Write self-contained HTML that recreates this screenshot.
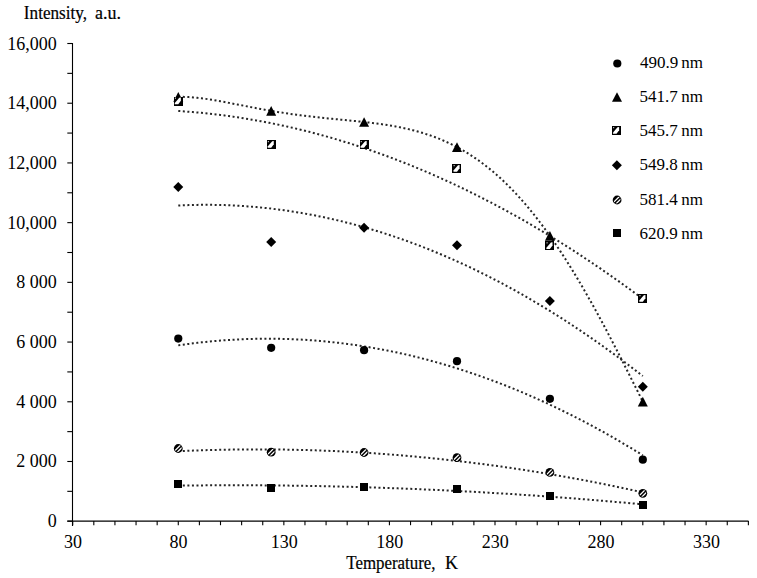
<!DOCTYPE html><html><head><meta charset="utf-8"><style>html,body{margin:0;padding:0;background:#fff;}svg{display:block;}text{font-family:"Liberation Serif",serif;fill:#000;}.b{stroke:#000;stroke-width:0.2px;}</style></head><body>
<svg width="757" height="578" viewBox="0 0 757 578">
<defs>
<clipPath id="cc"><circle cx="0" cy="0" r="3.4"/></clipPath>
<g id="m0"><circle cx="0" cy="0" r="4.1" fill="#000"/></g>
<g id="m1"><path d="M0,-4.85 L5,4.85 L-5,4.85 Z" fill="#000"/></g>
<g id="m2"><rect x="-4.5" y="-4.5" width="9" height="9" fill="#000" shape-rendering="crispEdges"/><path d="M-3.5,3.2 L-3.5,2.1 L1,-3.3 L2.6,-3.4 L2.6,-0.3 L0,3.2 Z" fill="#fff"/><rect x="-3.4" y="-3.4" width="1.1" height="1.1" fill="#fff" opacity="0.9"/></g>
<g id="m3"><path d="M0,-5 L5,0 L0,5 L-5,0 Z" fill="#000"/></g>
<g id="m4"><circle cx="0" cy="0" r="4.4" fill="#000"/><g clip-path="url(#cc)" stroke="#fff" stroke-width="1.3"><line x1="-6" y1="4.8" x2="4.8" y2="-6"/><line x1="-3" y1="5.7" x2="5.7" y2="-3"/></g></g>
<g id="m5"><rect x="-4" y="-4" width="8" height="8" fill="#000" shape-rendering="crispEdges"/></g>
</defs>
<line x1="72.5" y1="43" x2="72.5" y2="526" stroke="#000" stroke-width="1.1"/>
<line x1="67.3" y1="521.2" x2="748.5" y2="521.2" stroke="#000" stroke-width="1.3"/>
<line x1="67.3" y1="521.20" x2="72.5" y2="521.20" stroke="#000" stroke-width="1.1"/>
<line x1="67.3" y1="491.34" x2="72.5" y2="491.34" stroke="#000" stroke-width="1.1"/>
<line x1="67.3" y1="461.49" x2="72.5" y2="461.49" stroke="#000" stroke-width="1.1"/>
<line x1="67.3" y1="431.63" x2="72.5" y2="431.63" stroke="#000" stroke-width="1.1"/>
<line x1="67.3" y1="401.78" x2="72.5" y2="401.78" stroke="#000" stroke-width="1.1"/>
<line x1="67.3" y1="371.92" x2="72.5" y2="371.92" stroke="#000" stroke-width="1.1"/>
<line x1="67.3" y1="342.06" x2="72.5" y2="342.06" stroke="#000" stroke-width="1.1"/>
<line x1="67.3" y1="312.21" x2="72.5" y2="312.21" stroke="#000" stroke-width="1.1"/>
<line x1="67.3" y1="282.35" x2="72.5" y2="282.35" stroke="#000" stroke-width="1.1"/>
<line x1="67.3" y1="252.50" x2="72.5" y2="252.50" stroke="#000" stroke-width="1.1"/>
<line x1="67.3" y1="222.64" x2="72.5" y2="222.64" stroke="#000" stroke-width="1.1"/>
<line x1="67.3" y1="192.78" x2="72.5" y2="192.78" stroke="#000" stroke-width="1.1"/>
<line x1="67.3" y1="162.93" x2="72.5" y2="162.93" stroke="#000" stroke-width="1.1"/>
<line x1="67.3" y1="133.07" x2="72.5" y2="133.07" stroke="#000" stroke-width="1.1"/>
<line x1="67.3" y1="103.22" x2="72.5" y2="103.22" stroke="#000" stroke-width="1.1"/>
<line x1="67.3" y1="73.36" x2="72.5" y2="73.36" stroke="#000" stroke-width="1.1"/>
<line x1="67.3" y1="43.50" x2="72.5" y2="43.50" stroke="#000" stroke-width="1.1"/>
<line x1="72.70" y1="521" x2="72.70" y2="525.2" stroke="#000" stroke-width="1.1"/>
<line x1="93.81" y1="521" x2="93.81" y2="525.2" stroke="#000" stroke-width="1.1"/>
<line x1="114.93" y1="521" x2="114.93" y2="525.2" stroke="#000" stroke-width="1.1"/>
<line x1="136.05" y1="521" x2="136.05" y2="525.2" stroke="#000" stroke-width="1.1"/>
<line x1="157.16" y1="521" x2="157.16" y2="525.2" stroke="#000" stroke-width="1.1"/>
<line x1="178.28" y1="521" x2="178.28" y2="525.2" stroke="#000" stroke-width="1.1"/>
<line x1="199.39" y1="521" x2="199.39" y2="525.2" stroke="#000" stroke-width="1.1"/>
<line x1="220.50" y1="521" x2="220.50" y2="525.2" stroke="#000" stroke-width="1.1"/>
<line x1="241.62" y1="521" x2="241.62" y2="525.2" stroke="#000" stroke-width="1.1"/>
<line x1="262.74" y1="521" x2="262.74" y2="525.2" stroke="#000" stroke-width="1.1"/>
<line x1="283.85" y1="521" x2="283.85" y2="525.2" stroke="#000" stroke-width="1.1"/>
<line x1="304.96" y1="521" x2="304.96" y2="525.2" stroke="#000" stroke-width="1.1"/>
<line x1="326.08" y1="521" x2="326.08" y2="525.2" stroke="#000" stroke-width="1.1"/>
<line x1="347.19" y1="521" x2="347.19" y2="525.2" stroke="#000" stroke-width="1.1"/>
<line x1="368.31" y1="521" x2="368.31" y2="525.2" stroke="#000" stroke-width="1.1"/>
<line x1="389.42" y1="521" x2="389.42" y2="525.2" stroke="#000" stroke-width="1.1"/>
<line x1="410.54" y1="521" x2="410.54" y2="525.2" stroke="#000" stroke-width="1.1"/>
<line x1="431.65" y1="521" x2="431.65" y2="525.2" stroke="#000" stroke-width="1.1"/>
<line x1="452.77" y1="521" x2="452.77" y2="525.2" stroke="#000" stroke-width="1.1"/>
<line x1="473.88" y1="521" x2="473.88" y2="525.2" stroke="#000" stroke-width="1.1"/>
<line x1="495.00" y1="521" x2="495.00" y2="525.2" stroke="#000" stroke-width="1.1"/>
<line x1="516.12" y1="521" x2="516.12" y2="525.2" stroke="#000" stroke-width="1.1"/>
<line x1="537.23" y1="521" x2="537.23" y2="525.2" stroke="#000" stroke-width="1.1"/>
<line x1="558.35" y1="521" x2="558.35" y2="525.2" stroke="#000" stroke-width="1.1"/>
<line x1="579.46" y1="521" x2="579.46" y2="525.2" stroke="#000" stroke-width="1.1"/>
<line x1="600.58" y1="521" x2="600.58" y2="525.2" stroke="#000" stroke-width="1.1"/>
<line x1="621.69" y1="521" x2="621.69" y2="525.2" stroke="#000" stroke-width="1.1"/>
<line x1="642.81" y1="521" x2="642.81" y2="525.2" stroke="#000" stroke-width="1.1"/>
<line x1="663.92" y1="521" x2="663.92" y2="525.2" stroke="#000" stroke-width="1.1"/>
<line x1="685.04" y1="521" x2="685.04" y2="525.2" stroke="#000" stroke-width="1.1"/>
<line x1="706.15" y1="521" x2="706.15" y2="525.2" stroke="#000" stroke-width="1.1"/>
<line x1="727.26" y1="521" x2="727.26" y2="525.2" stroke="#000" stroke-width="1.1"/>
<line x1="748.38" y1="521" x2="748.38" y2="525.2" stroke="#000" stroke-width="1.1"/>
<text x="56.8" y="527" font-size="18" text-anchor="end">0</text>
<text x="56.8" y="467" font-size="18" text-anchor="end">2 000</text>
<text x="56.8" y="408" font-size="18" text-anchor="end">4 000</text>
<text x="56.8" y="348" font-size="18" text-anchor="end">6 000</text>
<text x="56.8" y="288" font-size="18" text-anchor="end">8 000</text>
<text x="56.8" y="229" font-size="18" text-anchor="end">10,000</text>
<text x="56.8" y="169" font-size="18" text-anchor="end">12,000</text>
<text x="56.8" y="109" font-size="18" text-anchor="end">14,000</text>
<text x="56.8" y="50" font-size="18" text-anchor="end">16,000</text>
<text x="73.00" y="548" font-size="18" text-anchor="middle">30</text>
<text x="178.58" y="548" font-size="18" text-anchor="middle">80</text>
<text x="284.15" y="548" font-size="18" text-anchor="middle">130</text>
<text x="389.72" y="548" font-size="18" text-anchor="middle">180</text>
<text x="495.30" y="548" font-size="18" text-anchor="middle">230</text>
<text x="600.88" y="548" font-size="18" text-anchor="middle">280</text>
<text x="706.45" y="548" font-size="18" text-anchor="middle">330</text>
<text transform="translate(346.3,569) scale(0.938,1)" x="0" y="0" font-size="18" class="b">Temperature,</text>
<text x="445.1" y="569" font-size="18" class="b">K</text>
<text transform="translate(23.85,19) scale(0.953,1)" x="0" y="0" font-size="18" class="b">Intensity,</text>
<text x="95" y="19" font-size="18" class="b">a.u.</text>
<polyline points="178.28,345.37 180.39,345.06 182.50,344.76 184.61,344.46 186.72,344.17 188.83,343.89 190.94,343.62 193.06,343.35 195.17,343.09 197.28,342.84 199.39,342.60 201.50,342.36 203.61,342.13 205.72,341.91 207.84,341.70 209.95,341.49 212.06,341.29 214.17,341.10 216.28,340.91 218.39,340.74 220.50,340.57 222.62,340.40 224.73,340.25 226.84,340.10 228.95,339.96 231.06,339.83 233.17,339.70 235.29,339.59 237.40,339.47 239.51,339.37 241.62,339.28 243.73,339.19 245.84,339.11 247.95,339.03 250.07,338.97 252.18,338.91 254.29,338.86 256.40,338.81 258.51,338.78 260.62,338.75 262.74,338.72 264.85,338.71 266.96,338.70 269.07,338.70 271.18,338.71 273.29,338.73 275.40,338.75 277.52,338.78 279.63,338.82 281.74,338.86 283.85,338.91 285.96,338.97 288.07,339.04 290.18,339.11 292.30,339.19 294.41,339.28 296.52,339.38 298.63,339.48 300.74,339.60 302.85,339.71 304.97,339.84 307.08,339.97 309.19,340.11 311.30,340.26 313.41,340.42 315.52,340.58 317.63,340.75 319.75,340.93 321.86,341.11 323.97,341.31 326.08,341.51 328.19,341.72 330.30,341.93 332.41,342.15 334.53,342.38 336.64,342.62 338.75,342.86 340.86,343.12 342.97,343.37 345.08,343.64 347.20,343.92 349.31,344.20 351.42,344.49 353.53,344.78 355.64,345.09 357.75,345.40 359.86,345.71 361.98,346.04 364.09,346.37 366.20,346.71 368.31,347.06 370.42,347.42 372.53,347.78 374.64,348.15 376.76,348.53 378.87,348.91 380.98,349.31 383.09,349.71 385.20,350.11 387.31,350.53 389.43,350.95 391.54,351.38 393.65,351.82 395.76,352.26 397.87,352.71 399.98,353.17 402.09,353.64 404.21,354.11 406.32,354.59 408.43,355.08 410.54,355.58 412.65,356.08 414.76,356.59 416.87,357.11 418.99,357.63 421.10,358.17 423.21,358.71 425.32,359.26 427.43,359.81 429.54,360.37 431.66,360.94 433.77,361.52 435.88,362.11 437.99,362.70 440.10,363.30 442.21,363.90 444.32,364.52 446.44,365.14 448.55,365.77 450.66,366.41 452.77,367.05 454.88,367.70 456.99,368.36 459.10,369.03 461.22,369.70 463.33,370.38 465.44,371.07 467.55,371.76 469.66,372.47 471.77,373.18 473.89,373.90 476.00,374.62 478.11,375.35 480.22,376.09 482.33,376.84 484.44,377.60 486.55,378.36 488.67,379.13 490.78,379.91 492.89,380.69 495.00,381.48 497.11,382.28 499.22,383.09 501.33,383.90 503.45,384.72 505.56,385.55 507.67,386.39 509.78,387.23 511.89,388.08 514.00,388.94 516.12,389.81 518.23,390.68 520.34,391.56 522.45,392.45 524.56,393.35 526.67,394.25 528.78,395.16 530.90,396.08 533.01,397.00 535.12,397.93 537.23,398.87 539.34,399.82 541.45,400.78 543.56,401.74 545.68,402.71 547.79,403.68 549.90,404.67 552.01,405.66 554.12,406.66 556.23,407.67 558.35,408.68 560.46,409.70 562.57,410.73 564.68,411.77 566.79,412.81 568.90,413.86 571.01,414.92 573.13,415.98 575.24,417.06 577.35,418.14 579.46,419.22 581.57,420.32 583.68,421.42 585.79,422.53 587.91,423.65 590.02,424.77 592.13,425.91 594.24,427.05 596.35,428.19 598.46,429.35 600.58,430.51 602.69,431.68 604.80,432.86 606.91,434.04 609.02,435.23 611.13,436.43 613.24,437.64 615.36,438.85 617.47,440.07 619.58,441.30 621.69,442.53 623.80,443.78 625.91,445.03 628.02,446.29 630.14,447.55 632.25,448.82 634.36,450.10 636.47,451.39 638.58,452.69 640.69,453.99 642.81,455.30" fill="none" stroke="#262626" stroke-width="2" stroke-dasharray="2 2.55"/>
<polyline points="178.28,96.80 180.39,96.80 182.50,96.82 184.61,96.88 186.72,96.97 188.83,97.09 190.94,97.24 193.06,97.41 195.17,97.60 197.28,97.82 199.39,98.06 201.50,98.31 203.61,98.59 205.72,98.88 207.84,99.19 209.95,99.51 212.06,99.84 214.17,100.19 216.28,100.54 218.39,100.91 220.50,101.29 222.62,101.67 224.73,102.06 226.84,102.45 228.95,102.86 231.06,103.26 233.17,103.67 235.29,104.08 237.40,104.49 239.51,104.90 241.62,105.32 243.73,105.73 245.84,106.14 247.95,106.55 250.07,106.96 252.18,107.37 254.29,107.77 256.40,108.17 258.51,108.57 260.62,108.96 262.74,109.35 264.85,109.73 266.96,110.11 269.07,110.48 271.18,110.85 273.29,111.21 275.40,111.57 277.52,111.91 279.63,112.26 281.74,112.59 283.85,112.92 285.96,113.24 288.07,113.56 290.18,113.87 292.30,114.17 294.41,114.47 296.52,114.75 298.63,115.04 300.74,115.31 302.85,115.58 304.96,115.85 307.08,116.11 309.19,116.36 311.30,116.61 313.41,116.85 315.52,117.09 317.63,117.32 319.75,117.55 321.86,117.77 323.97,117.99 326.08,118.21 328.19,118.42 330.30,118.63 332.41,118.84 334.53,119.05 336.64,119.25 338.75,119.46 340.86,119.66 342.97,119.86 345.08,120.07 347.19,120.27 349.31,120.48 351.42,120.68 353.53,120.89 355.64,121.11 357.75,121.32 359.86,121.54 361.98,121.77 364.09,122.00 366.20,122.24 368.31,122.48 370.42,122.73 372.53,122.99 374.64,123.25 376.76,123.53 378.87,123.81 380.98,124.10 383.09,124.41 385.20,124.72 387.31,125.05 389.42,125.39 391.54,125.75 393.65,126.12 395.76,126.50 397.87,126.90 399.98,127.31 402.09,127.75 404.21,128.20 406.32,128.66 408.43,129.15 410.54,129.66 412.65,130.18 414.76,130.73 416.87,131.30 418.99,131.89 421.10,132.50 423.21,133.14 425.32,133.80 427.43,134.49 429.54,135.20 431.65,135.94 433.77,136.71 435.88,137.50 437.99,138.32 440.10,139.17 442.21,140.05 444.32,140.97 446.44,141.91 448.55,142.88 450.66,143.89 452.77,144.92 454.88,145.99 456.99,147.10 459.10,148.24 461.22,149.41 463.33,150.62 465.44,151.87 467.55,153.15 469.66,154.47 471.77,155.83 473.88,157.23 476.00,158.66 478.11,160.14 480.22,161.65 482.33,163.21 484.44,164.80 486.55,166.44 488.67,168.11 490.78,169.83 492.89,171.59 495.00,173.40 497.11,175.24 499.22,177.13 501.33,179.06 503.45,181.04 505.56,183.06 507.67,185.12 509.78,187.23 511.89,189.39 514.00,191.59 516.12,193.83 518.23,196.12 520.34,198.45 522.45,200.83 524.56,203.26 526.67,205.73 528.78,208.24 530.90,210.80 533.01,213.41 535.12,216.06 537.23,218.76 539.34,221.51 541.45,224.29 543.56,227.13 545.68,230.01 547.79,232.93 549.90,235.90 552.01,238.91 554.12,241.97 556.23,245.07 558.35,248.21 560.46,251.40 562.57,254.63 564.68,257.90 566.79,261.22 568.90,264.57 571.01,267.97 573.13,271.40 575.24,274.88 577.35,278.39 579.46,281.95 581.57,285.54 583.68,289.16 585.79,292.83 587.91,296.53 590.02,300.26 592.13,304.03 594.24,307.83 596.35,311.66 598.46,315.53 600.58,319.42 602.69,323.34 604.80,327.29 606.91,331.27 609.02,335.27 611.13,339.30 613.24,343.35 615.36,347.42 617.47,351.52 619.58,355.63 621.69,359.76 623.80,363.91 625.91,368.07 628.02,372.24 630.14,376.43 632.25,380.62 634.36,384.83 636.47,389.04 638.58,393.26 640.69,397.48 642.81,401.70" fill="none" stroke="#262626" stroke-width="2" stroke-dasharray="2 2.55"/>
<polyline points="178.28,111.00 180.39,111.13 182.50,111.28 184.61,111.42 186.72,111.58 188.83,111.74 190.94,111.91 193.06,112.09 195.17,112.27 197.28,112.46 199.39,112.65 201.50,112.86 203.61,113.06 205.72,113.28 207.84,113.50 209.95,113.73 212.06,113.96 214.17,114.20 216.28,114.45 218.39,114.71 220.50,114.97 222.62,115.23 224.73,115.51 226.84,115.79 228.95,116.08 231.06,116.37 233.17,116.67 235.29,116.98 237.40,117.29 239.51,117.61 241.62,117.94 243.73,118.27 245.84,118.61 247.95,118.95 250.07,119.31 252.18,119.67 254.29,120.03 256.40,120.40 258.51,120.78 260.62,121.17 262.74,121.56 264.85,121.96 266.96,122.36 269.07,122.77 271.18,123.19 273.29,123.62 275.40,124.05 277.52,124.49 279.63,124.93 281.74,125.38 283.85,125.84 285.96,126.30 288.07,126.77 290.18,127.25 292.30,127.73 294.41,128.22 296.52,128.72 298.63,129.22 300.74,129.73 302.85,130.25 304.96,130.77 307.08,131.30 309.19,131.84 311.30,132.38 313.41,132.93 315.52,133.49 317.63,134.05 319.75,134.62 321.86,135.19 323.97,135.77 326.08,136.36 328.19,136.96 330.30,137.56 332.41,138.17 334.53,138.78 336.64,139.40 338.75,140.03 340.86,140.67 342.97,141.31 345.08,141.95 347.19,142.61 349.31,143.27 351.42,143.94 353.53,144.61 355.64,145.29 357.75,145.98 359.86,146.67 361.98,147.37 364.09,148.08 366.20,148.79 368.31,149.51 370.42,150.24 372.53,150.97 374.64,151.71 376.76,152.45 378.87,153.21 380.98,153.97 383.09,154.73 385.20,155.50 387.31,156.28 389.42,157.07 391.54,157.86 393.65,158.66 395.76,159.46 397.87,160.27 399.98,161.09 402.09,161.91 404.21,162.75 406.32,163.58 408.43,164.43 410.54,165.28 412.65,166.14 414.76,167.00 416.87,167.87 418.99,168.75 421.10,169.63 423.21,170.52 425.32,171.42 427.43,172.32 429.54,173.23 431.65,174.15 433.77,175.07 435.88,176.00 437.99,176.93 440.10,177.88 442.21,178.82 444.32,179.78 446.44,180.74 448.55,181.71 450.66,182.69 452.77,183.67 454.88,184.66 456.99,185.65 459.10,186.65 461.22,187.66 463.33,188.68 465.44,189.70 467.55,190.72 469.66,191.76 471.77,192.80 473.88,193.85 476.00,194.90 478.11,195.96 480.22,197.03 482.33,198.10 484.44,199.18 486.55,200.27 488.67,201.36 490.78,202.46 492.89,203.57 495.00,204.68 497.11,205.80 499.22,206.93 501.33,208.06 503.45,209.20 505.56,210.34 507.67,211.49 509.78,212.65 511.89,213.82 514.00,214.99 516.12,216.17 518.23,217.35 520.34,218.55 522.45,219.74 524.56,220.95 526.67,222.16 528.78,223.38 530.90,224.60 533.01,225.83 535.12,227.07 537.23,228.31 539.34,229.56 541.45,230.82 543.56,232.08 545.68,233.36 547.79,234.63 549.90,235.91 552.01,237.20 554.12,238.50 556.23,239.80 558.35,241.11 560.46,242.43 562.57,243.75 564.68,245.08 566.79,246.42 568.90,247.76 571.01,249.11 573.13,250.46 575.24,251.83 577.35,253.19 579.46,254.57 581.57,255.95 583.68,257.34 585.79,258.73 587.91,260.13 590.02,261.54 592.13,262.96 594.24,264.38 596.35,265.81 598.46,267.24 600.58,268.68 602.69,270.13 604.80,271.58 606.91,273.04 609.02,274.51 611.13,275.98 613.24,277.46 615.36,278.95 617.47,280.44 619.58,281.94 621.69,283.45 623.80,284.96 625.91,286.48 628.02,288.00 630.14,289.54 632.25,291.08 634.36,292.62 636.47,294.17 638.58,295.73 640.69,297.30 642.81,298.87" fill="none" stroke="#262626" stroke-width="2" stroke-dasharray="2 2.55"/>
<polyline points="178.28,205.51 180.39,205.41 182.50,205.32 184.61,205.23 186.72,205.15 188.83,205.08 190.94,205.02 193.06,204.97 195.17,204.92 197.28,204.88 199.39,204.85 201.50,204.83 203.61,204.82 205.72,204.81 207.84,204.82 209.95,204.83 212.06,204.85 214.17,204.87 216.28,204.91 218.39,204.95 220.50,205.00 222.62,205.06 224.73,205.12 226.84,205.20 228.95,205.28 231.06,205.37 233.17,205.47 235.29,205.58 237.40,205.69 239.51,205.81 241.62,205.95 243.73,206.08 245.84,206.23 247.95,206.39 250.07,206.55 252.18,206.72 254.29,206.90 256.40,207.08 258.51,207.28 260.62,207.48 262.74,207.69 264.85,207.91 266.96,208.14 269.07,208.37 271.18,208.62 273.29,208.87 275.40,209.12 277.52,209.39 279.63,209.67 281.74,209.95 283.85,210.24 285.96,210.54 288.07,210.85 290.18,211.16 292.30,211.48 294.41,211.81 296.52,212.15 298.63,212.50 300.74,212.85 302.85,213.22 304.96,213.59 307.08,213.97 309.19,214.35 311.30,214.75 313.41,215.15 315.52,215.56 317.63,215.98 319.75,216.41 321.86,216.84 323.97,217.29 326.08,217.74 328.19,218.20 330.30,218.66 332.41,219.14 334.53,219.62 336.64,220.11 338.75,220.61 340.86,221.12 342.97,221.63 345.08,222.16 347.19,222.69 349.31,223.23 351.42,223.77 353.53,224.33 355.64,224.89 357.75,225.46 359.86,226.04 361.98,226.63 364.09,227.22 366.20,227.83 368.31,228.44 370.42,229.06 372.53,229.68 374.64,230.32 376.76,230.96 378.87,231.61 380.98,232.27 383.09,232.94 385.20,233.61 387.31,234.30 389.42,234.99 391.54,235.69 393.65,236.39 395.76,237.11 397.87,237.83 399.98,238.56 402.09,239.30 404.21,240.05 406.32,240.81 408.43,241.57 410.54,242.34 412.65,243.12 414.76,243.91 416.87,244.70 418.99,245.51 421.10,246.32 423.21,247.14 425.32,247.96 427.43,248.80 429.54,249.64 431.65,250.49 433.77,251.35 435.88,252.22 437.99,253.10 440.10,253.98 442.21,254.87 444.32,255.77 446.44,256.68 448.55,257.59 450.66,258.52 452.77,259.45 454.88,260.39 456.99,261.33 459.10,262.29 461.22,263.25 463.33,264.22 465.44,265.20 467.55,266.19 469.66,267.19 471.77,268.19 473.88,269.20 476.00,270.22 478.11,271.25 480.22,272.28 482.33,273.33 484.44,274.38 486.55,275.44 488.67,276.51 490.78,277.58 492.89,278.67 495.00,279.76 497.11,280.86 499.22,281.96 501.33,283.08 503.45,284.20 505.56,285.34 507.67,286.48 509.78,287.62 511.89,288.78 514.00,289.94 516.12,291.11 518.23,292.29 520.34,293.48 522.45,294.68 524.56,295.88 526.67,297.09 528.78,298.31 530.90,299.54 533.01,300.78 535.12,302.02 537.23,303.27 539.34,304.53 541.45,305.80 543.56,307.07 545.68,308.36 547.79,309.65 549.90,310.95 552.01,312.26 554.12,313.57 556.23,314.90 558.35,316.23 560.46,317.57 562.57,318.92 564.68,320.27 566.79,321.64 568.90,323.01 571.01,324.39 573.13,325.78 575.24,327.17 577.35,328.58 579.46,329.99 581.57,331.41 583.68,332.83 585.79,334.27 587.91,335.71 590.02,337.17 592.13,338.63 594.24,340.09 596.35,341.57 598.46,343.05 600.58,344.55 602.69,346.05 604.80,347.55 606.91,349.07 609.02,350.59 611.13,352.13 613.24,353.67 615.36,355.21 617.47,356.77 619.58,358.33 621.69,359.91 623.80,361.49 625.91,363.07 628.02,364.67 630.14,366.28 632.25,367.89 634.36,369.51 636.47,371.14 638.58,372.77 640.69,374.42 642.81,376.07" fill="none" stroke="#262626" stroke-width="2" stroke-dasharray="2 2.55"/>
<polyline points="178.28,451.21 180.39,451.12 182.50,451.03 184.61,450.93 186.72,450.85 188.83,450.76 190.94,450.68 193.06,450.60 195.17,450.52 197.28,450.45 199.39,450.37 201.50,450.30 203.61,450.24 205.72,450.17 207.84,450.11 209.95,450.05 212.06,449.99 214.17,449.94 216.28,449.89 218.39,449.84 220.50,449.79 222.62,449.74 224.73,449.70 226.84,449.66 228.95,449.63 231.06,449.59 233.17,449.56 235.29,449.53 237.40,449.51 239.51,449.48 241.62,449.46 243.73,449.45 245.84,449.43 247.95,449.42 250.07,449.41 252.18,449.40 254.29,449.39 256.40,449.39 258.51,449.39 260.62,449.39 262.74,449.40 264.85,449.40 266.96,449.42 269.07,449.43 271.18,449.44 273.29,449.46 275.40,449.48 277.52,449.50 279.63,449.53 281.74,449.56 283.85,449.59 285.96,449.62 288.07,449.66 290.18,449.70 292.30,449.74 294.41,449.78 296.52,449.83 298.63,449.88 300.74,449.93 302.85,449.98 304.97,450.04 307.08,450.10 309.19,450.16 311.30,450.22 313.41,450.29 315.52,450.36 317.63,450.43 319.75,450.51 321.86,450.59 323.97,450.67 326.08,450.75 328.19,450.83 330.30,450.92 332.41,451.01 334.53,451.10 336.64,451.20 338.75,451.30 340.86,451.40 342.97,451.50 345.08,451.61 347.20,451.71 349.31,451.83 351.42,451.94 353.53,452.06 355.64,452.17 357.75,452.30 359.86,452.42 361.98,452.55 364.09,452.67 366.20,452.81 368.31,452.94 370.42,453.08 372.53,453.22 374.64,453.36 376.76,453.50 378.87,453.65 380.98,453.80 383.09,453.95 385.20,454.11 387.31,454.26 389.43,454.42 391.54,454.59 393.65,454.75 395.76,454.92 397.87,455.09 399.98,455.26 402.09,455.44 404.21,455.62 406.32,455.80 408.43,455.98 410.54,456.17 412.65,456.35 414.76,456.55 416.87,456.74 418.99,456.94 421.10,457.13 423.21,457.34 425.32,457.54 427.43,457.75 429.54,457.96 431.66,458.17 433.77,458.38 435.88,458.60 437.99,458.82 440.10,459.04 442.21,459.26 444.32,459.49 446.44,459.72 448.55,459.95 450.66,460.19 452.77,460.43 454.88,460.67 456.99,460.91 459.10,461.15 461.22,461.40 463.33,461.65 465.44,461.91 467.55,462.16 469.66,462.42 471.77,462.68 473.89,462.94 476.00,463.21 478.11,463.48 480.22,463.75 482.33,464.02 484.44,464.30 486.55,464.58 488.67,464.86 490.78,465.14 492.89,465.43 495.00,465.72 497.11,466.01 499.22,466.31 501.33,466.60 503.45,466.90 505.56,467.20 507.67,467.51 509.78,467.82 511.89,468.13 514.00,468.44 516.12,468.75 518.23,469.07 520.34,469.39 522.45,469.71 524.56,470.04 526.67,470.37 528.78,470.70 530.90,471.03 533.01,471.37 535.12,471.71 537.23,472.05 539.34,472.39 541.45,472.74 543.56,473.08 545.68,473.44 547.79,473.79 549.90,474.15 552.01,474.50 554.12,474.87 556.23,475.23 558.35,475.60 560.46,475.97 562.57,476.34 564.68,476.71 566.79,477.09 568.90,477.47 571.01,477.85 573.13,478.24 575.24,478.62 577.35,479.01 579.46,479.41 581.57,479.80 583.68,480.20 585.79,480.60 587.91,481.00 590.02,481.41 592.13,481.82 594.24,482.23 596.35,482.64 598.46,483.06 600.58,483.47 602.69,483.90 604.80,484.32 606.91,484.75 609.02,485.17 611.13,485.61 613.24,486.04 615.36,486.48 617.47,486.91 619.58,487.36 621.69,487.80 623.80,488.25 625.91,488.70 628.02,489.15 630.14,489.60 632.25,490.06 634.36,490.52 636.47,490.98 638.58,491.45 640.69,491.92 642.81,492.39" fill="none" stroke="#262626" stroke-width="2" stroke-dasharray="2 2.55"/>
<polyline points="178.28,485.62 180.39,485.59 182.50,485.57 184.61,485.55 186.72,485.52 188.83,485.50 190.94,485.48 193.06,485.46 195.17,485.44 197.28,485.42 199.39,485.40 201.50,485.39 203.61,485.37 205.72,485.36 207.84,485.35 209.95,485.34 212.06,485.32 214.17,485.31 216.28,485.31 218.39,485.30 220.50,485.29 222.62,485.29 224.73,485.28 226.84,485.28 228.95,485.27 231.06,485.27 233.17,485.27 235.29,485.27 237.40,485.27 239.51,485.28 241.62,485.28 243.73,485.28 245.84,485.29 247.95,485.29 250.07,485.30 252.18,485.31 254.29,485.32 256.40,485.33 258.51,485.34 260.62,485.35 262.74,485.37 264.85,485.38 266.96,485.40 269.07,485.41 271.18,485.43 273.29,485.45 275.40,485.47 277.52,485.49 279.63,485.51 281.74,485.54 283.85,485.56 285.96,485.58 288.07,485.61 290.18,485.64 292.30,485.66 294.41,485.69 296.52,485.72 298.63,485.75 300.74,485.78 302.85,485.82 304.97,485.85 307.08,485.89 309.19,485.92 311.30,485.96 313.41,486.00 315.52,486.04 317.63,486.08 319.75,486.12 321.86,486.16 323.97,486.20 326.08,486.25 328.19,486.29 330.30,486.34 332.41,486.38 334.53,486.43 336.64,486.48 338.75,486.53 340.86,486.58 342.97,486.63 345.08,486.69 347.20,486.74 349.31,486.80 351.42,486.85 353.53,486.91 355.64,486.97 357.75,487.03 359.86,487.09 361.98,487.15 364.09,487.21 366.20,487.27 368.31,487.34 370.42,487.40 372.53,487.47 374.64,487.54 376.76,487.61 378.87,487.68 380.98,487.75 383.09,487.82 385.20,487.89 387.31,487.96 389.43,488.04 391.54,488.11 393.65,488.19 395.76,488.27 397.87,488.35 399.98,488.43 402.09,488.51 404.21,488.59 406.32,488.67 408.43,488.75 410.54,488.84 412.65,488.92 414.76,489.01 416.87,489.10 418.99,489.19 421.10,489.28 423.21,489.37 425.32,489.46 427.43,489.55 429.54,489.65 431.66,489.74 433.77,489.84 435.88,489.93 437.99,490.03 440.10,490.13 442.21,490.23 444.32,490.33 446.44,490.43 448.55,490.54 450.66,490.64 452.77,490.74 454.88,490.85 456.99,490.96 459.10,491.07 461.22,491.17 463.33,491.29 465.44,491.40 467.55,491.51 469.66,491.62 471.77,491.74 473.89,491.85 476.00,491.97 478.11,492.08 480.22,492.20 482.33,492.32 484.44,492.44 486.55,492.56 488.67,492.68 490.78,492.81 492.89,492.93 495.00,493.06 497.11,493.18 499.22,493.31 501.33,493.44 503.45,493.57 505.56,493.70 507.67,493.83 509.78,493.96 511.89,494.10 514.00,494.23 516.12,494.37 518.23,494.50 520.34,494.64 522.45,494.78 524.56,494.92 526.67,495.06 528.78,495.20 530.90,495.34 533.01,495.49 535.12,495.63 537.23,495.78 539.34,495.92 541.45,496.07 543.56,496.22 545.68,496.37 547.79,496.52 549.90,496.67 552.01,496.82 554.12,496.98 556.23,497.13 558.35,497.29 560.46,497.45 562.57,497.60 564.68,497.76 566.79,497.92 568.90,498.08 571.01,498.25 573.13,498.41 575.24,498.57 577.35,498.74 579.46,498.90 581.57,499.07 583.68,499.24 585.79,499.41 587.91,499.58 590.02,499.75 592.13,499.92 594.24,500.09 596.35,500.27 598.46,500.44 600.58,500.62 602.69,500.80 604.80,500.97 606.91,501.15 609.02,501.33 611.13,501.51 613.24,501.70 615.36,501.88 617.47,502.06 619.58,502.25 621.69,502.44 623.80,502.62 625.91,502.81 628.02,503.00 630.14,503.19 632.25,503.38 634.36,503.57 636.47,503.77 638.58,503.96 640.69,504.16 642.81,504.35" fill="none" stroke="#262626" stroke-width="2" stroke-dasharray="2 2.55"/>
<use href="#m0" x="178.28" y="338.60"/>
<use href="#m0" x="271.18" y="347.80"/>
<use href="#m0" x="364.09" y="350.20"/>
<use href="#m0" x="456.99" y="361.20"/>
<use href="#m0" x="549.90" y="398.80"/>
<use href="#m0" x="642.81" y="459.70"/>
<use href="#m1" x="178.28" y="96.80"/>
<use href="#m1" x="271.18" y="110.85"/>
<use href="#m1" x="364.09" y="122.00"/>
<use href="#m1" x="456.99" y="147.10"/>
<use href="#m1" x="549.90" y="235.90"/>
<use href="#m1" x="642.81" y="401.70"/>
<use href="#m2" x="178.28" y="101.00"/>
<use href="#m2" x="271.18" y="144.50"/>
<use href="#m2" x="364.09" y="144.50"/>
<use href="#m2" x="456.99" y="168.50"/>
<use href="#m2" x="549.90" y="245.70"/>
<use href="#m2" x="642.81" y="298.50"/>
<use href="#m3" x="178.28" y="187.00"/>
<use href="#m3" x="271.18" y="241.90"/>
<use href="#m3" x="364.09" y="227.70"/>
<use href="#m3" x="456.99" y="245.30"/>
<use href="#m3" x="549.90" y="301.00"/>
<use href="#m3" x="642.81" y="386.80"/>
<use href="#m4" x="178.28" y="448.50"/>
<use href="#m4" x="271.18" y="452.20"/>
<use href="#m4" x="364.09" y="452.50"/>
<use href="#m4" x="456.99" y="457.70"/>
<use href="#m4" x="549.90" y="472.40"/>
<use href="#m4" x="642.81" y="493.30"/>
<use href="#m5" x="178.28" y="483.50"/>
<use href="#m5" x="271.18" y="488.00"/>
<use href="#m5" x="364.09" y="486.90"/>
<use href="#m5" x="456.99" y="488.90"/>
<use href="#m5" x="549.90" y="495.90"/>
<use href="#m5" x="642.81" y="505.00"/>
<use href="#m0" x="617.3" y="63.5"/>
<text x="640" y="68" font-size="17">490.9</text><text x="681.2" y="68" font-size="17">nm</text>
<use href="#m1" x="617" y="97.0"/>
<text x="639.6" y="102.1" font-size="17">541.7</text><text x="681.2" y="102.1" font-size="17">nm</text>
<use href="#m2" x="616.5" y="130.5"/>
<text x="639.6" y="136.3" font-size="17">545.7</text><text x="681.2" y="136.3" font-size="17">nm</text>
<use href="#m3" x="616.9" y="165.3"/>
<text x="639.6" y="170.4" font-size="17">549.8</text><text x="681.2" y="170.4" font-size="17">nm</text>
<use href="#m4" x="617.1" y="200.0"/>
<text x="639.6" y="204.5" font-size="17">581.4</text><text x="681.2" y="204.5" font-size="17">nm</text>
<use href="#m5" x="617" y="233.0"/>
<text x="639.6" y="238.5" font-size="17">620.9</text><text x="681.2" y="238.5" font-size="17">nm</text>
</svg></body></html>
